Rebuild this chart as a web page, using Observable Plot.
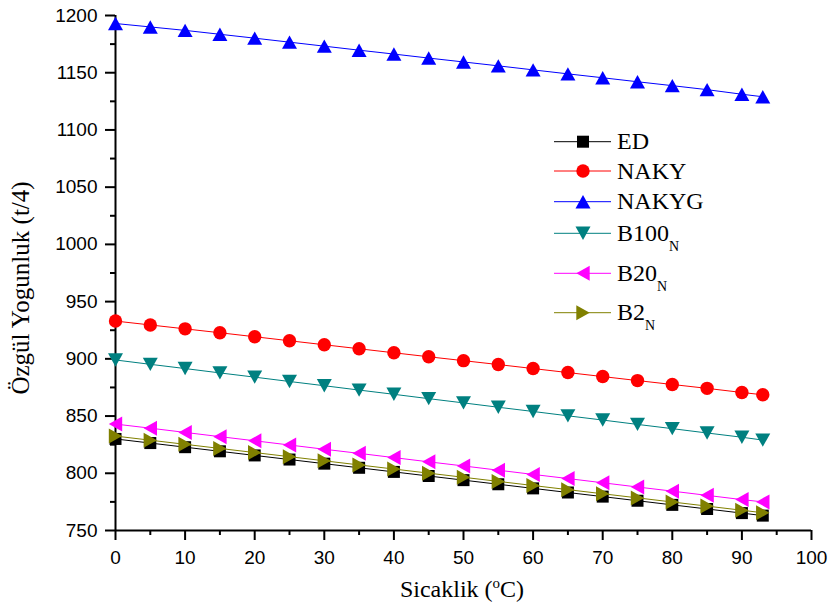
<!DOCTYPE html>
<html>
<head>
<meta charset="utf-8">
<script src="https://cdn.jsdelivr.net/npm/d3@7"></script>
<script src="https://cdn.jsdelivr.net/npm/@observablehq/plot@0.6"></script>
<style>
  html, body { margin: 0; padding: 0; background: #fff; }
  #chart { width: 832px; height: 610px; }
</style>
</head>
<body>
<div id="chart"></div>
<script>
const temps = [0, 5, 10, 15, 20, 25, 30, 35, 40, 45, 50, 55, 60, 65, 70, 75, 80, 85, 90, 93];
const ED    = [830, 826.4, 822.8, 819.2, 815.6, 812, 808.4, 804.8, 801.2, 797.6, 794, 790.4, 786.8, 783.2, 779.6, 776, 772.4, 768.8, 765.2, 763];
const NAKY  = [933, 929.6, 926.2, 922.8, 919.3, 915.8, 912.3, 908.8, 905.3, 901.8, 898.4, 895, 891.5, 888, 884.5, 881, 877.6, 874.2, 870.6, 868.6];
const NAKYG = [1193, 1190, 1187, 1183.6, 1180.2, 1176.7, 1173.2, 1169.7, 1166.3, 1162.8, 1159.4, 1156, 1152.5, 1149, 1145.6, 1142.1, 1138.7, 1135.2, 1131.2, 1129];
const B100N = [899, 895.2, 891.5, 887.7, 884, 880.2, 876.5, 872.7, 869, 865.2, 861.5, 857.7, 854, 850.2, 846.5, 842.7, 839, 835.2, 831.5, 829];
const B20N  = [843, 839.4, 835.7, 832, 828.4, 824.7, 821, 817.4, 813.7, 810, 806.4, 802.7, 799, 795.4, 791.7, 788, 784.4, 780.7, 777, 775];
const B2N   = [832.5, 828.9, 825.3, 821.7, 818.1, 814.5, 810.9, 807.3, 803.7, 800.1, 796.5, 792.9, 789.3, 785.7, 782.1, 778.5, 774.9, 771.3, 767.7, 765.5];

const seriesNames = ["ED", "NAKY", "NAKYG", "B100", "B20", "B2"];
const seriesSubs  = ["", "", "", "N", "N", "N"];
const seriesVals  = [ED, NAKY, NAKYG, B100N, B20N, B2N];
const seriesColors = ["#000000", "#ff0000", "#0000ff", "#008080", "#ff00ff", "#808000"];

const xTicks = [0, 10, 20, 30, 40, 50, 60, 70, 80, 90, 100];
const xMinor = [5, 15, 25, 35, 45, 55, 65, 75, 85, 95];
const yTicks = [750, 800, 850, 900, 950, 1000, 1050, 1100, 1150, 1200];
const yMinor = [775, 825, 875, 925, 975, 1025, 1075, 1125, 1175];

// custom marker shapes
const sq = {draw(ctx) { const s = 6; ctx.moveTo(-s, -s); ctx.lineTo(s, -s); ctx.lineTo(s, s); ctx.lineTo(-s, s); ctx.closePath(); }};
const circ = {draw(ctx) { const r = 6.7; ctx.moveTo(r, 0); ctx.arc(0, 0, r, 0, 2 * Math.PI); ctx.closePath(); }};
const W = 7.5, H = 6.7;
const triUp = {draw(ctx) { ctx.moveTo(0, -H); ctx.lineTo(W, H); ctx.lineTo(-W, H); ctx.closePath(); }};
const triDown = {draw(ctx) { ctx.moveTo(-W, -H); ctx.lineTo(W, -H); ctx.lineTo(0, H); ctx.closePath(); }};
const triLeft = {draw(ctx) { ctx.moveTo(-H, 0); ctx.lineTo(H, -W); ctx.lineTo(H, W); ctx.closePath(); }};
const triRight = {draw(ctx) { ctx.moveTo(H, 0); ctx.lineTo(-H, -W); ctx.lineTo(-H, W); ctx.closePath(); }};
const symbols = [sq, circ, triUp, triDown, triLeft, triRight];

const marks = [];
seriesVals.forEach((vals, i) => {
  const data = temps.map((t, j) => ({t, v: vals[j]}));
  marks.push(Plot.line(data, {x: "t", y: "v", stroke: seriesColors[i], strokeWidth: 1}));
  marks.push(Plot.dot(data, {x: "t", y: "v", r: 6, symbol: symbols[i], fill: seriesColors[i], stroke: "none"}));
});

const fmt = d3.format("d");
const chart = Plot.plot({
  width: 832,
  height: 610,
  marginLeft: 115,
  marginRight: 21,
  marginTop: 15,
  marginBottom: 80,
  style: {fontFamily: "'Liberation Sans', Arial, sans-serif", fontSize: "19px", color: "#000", background: "#fff", overflow: "visible"},
  x: {domain: [0, 100]},
  y: {domain: [750, 1200]},
  marks: [
    Plot.axisX({ticks: xTicks, tickSize: 10, tickPadding: 10, strokeWidth: 2, label: null, fontSize: 19, tickFormat: fmt}),
    Plot.axisX({ticks: xMinor, tickSize: 5, tickFormat: () => "", strokeWidth: 2, label: null}),
    Plot.axisY({ticks: yTicks, tickSize: 10, tickPadding: 8, strokeWidth: 2, label: null, fontSize: 19, tickFormat: fmt}),
    Plot.axisY({ticks: yMinor, tickSize: 5, tickFormat: () => "", strokeWidth: 2, label: null}),
    Plot.ruleX([0], {strokeWidth: 2}),
    Plot.ruleY([750], {strokeWidth: 2}),
    ...marks
  ]
});

document.getElementById("chart").appendChild(chart);

const svg = d3.select(chart);
const serif = "'Liberation Serif', 'Times New Roman', serif";

// axis titles
const xt = svg.append("text").attr("x", 462).attr("y", 597).attr("text-anchor", "middle")
  .attr("font-family", serif).attr("font-size", 24).attr("fill", "#000");
xt.append("tspan").text("Sicaklik (");
xt.append("tspan").attr("dy", -9).attr("font-size", 15).text("o");
xt.append("tspan").attr("dy", 9).text("C)");

svg.append("text").attr("transform", "translate(29,288) rotate(-90)").attr("text-anchor", "middle")
  .attr("font-family", serif).attr("font-size", 25).attr("fill", "#000").text("Özgül Yogunluk (t/4)");

// legend
const rowY = [141.7, 171, 201.7, 233.3, 273.3, 312.7];
const lg = svg.append("g").attr("text-anchor", "start");
seriesNames.forEach((name, i) => {
  const y = rowY[i];
  lg.append("line").attr("x1", 554).attr("x2", 611).attr("y1", y).attr("y2", y)
    .attr("stroke", seriesColors[i]).attr("stroke-width", 1);
  const p = d3.path();
  symbols[i].draw(p, 113);
  lg.append("path").attr("d", p.toString()).attr("transform", `translate(583,${y})`).attr("fill", seriesColors[i]);
  const t = lg.append("text").attr("x", 617).attr("y", y + 7.5).attr("text-anchor", "start")
    .attr("font-family", serif).attr("font-size", 24).attr("fill", "#000");
  t.append("tspan").text(name);
  if (seriesSubs[i]) t.append("tspan").attr("dy", 10).attr("font-size", 14).text(seriesSubs[i]);
});
</script>
</body>
</html>
